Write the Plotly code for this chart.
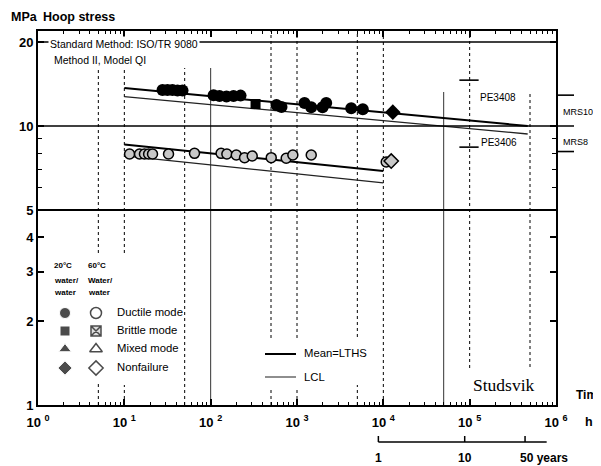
import numpy as np
import plotly.graph_objects as go

# ---------------- data ----------------
t20_ductile = [27.7, 31.6, 36.1, 41.3, 47.2, 108, 126.6, 152.6, 184, 222,
               579, 662, 1222, 1462, 1975, 2180, 4246, 5785]
s20_ductile = [13.46, 13.46, 13.46, 13.40, 13.40, 12.90, 12.80, 12.75, 12.80, 12.85,
               11.90, 11.70, 12.09, 11.68, 11.68, 12.09, 11.58, 11.49]
t20_brittle = [331]
s20_brittle = [11.99]
t20_nonfail = [12880]
s20_nonfail = [11.21]

t60_ductile = [11.5, 15.0, 17.1, 19.1, 21.2, 32.5, 65, 132, 154, 198, 247, 303,
               503, 750, 895, 1462, 10800]
s60_ductile = [7.94, 7.94, 7.94, 7.94, 7.94, 7.94, 7.98, 7.98, 7.94, 7.87, 7.70, 7.81,
               7.70, 7.66, 7.87, 7.87, 7.43]
t60_nonfail = [12340]
s60_nonfail = [7.49]

mean20_t = [10, 4.7e5]
mean20_s = [13.68, 10.0]
lcl20_t = [10, 4.7e5]
lcl20_s = [12.75, 9.36]
mean60_t = [10, 1e4]
mean60_s = [8.59, 6.90]
lcl60_t = [10, 1e4]
lcl60_s = [7.81, 6.25]

vline_times = [5, 10, 50, 100, 500, 1000, 5000, 1e4, 5e4, 1e5, 5e5]
hline_stress = [5, 10, 20]
mrs_stress = [12.9, 8.1]
mrs_labels = ["MRS10", "MRS8"]
pe_stress = [14.6, 8.4]
pe_labels = ["PE3408", "PE3406"]
pe_time_span = [7.6e4, 1.27e5]
years_marks = [1, 10, 50]
hours_per_year = 8760

x_tickvals = [1, 10, 100, 1e3, 1e4, 1e5, 1e6]
x_ticktext = ["10 <sup>%d</sup>" % k for k in range(7)]
y_tickvals = [1, 2, 3, 4, 5, 10, 20]
y_ticktext = ["1", "2", "3", "4", "5", "10", "20"]

# ---------------- layout helpers ----------------
# the page body has an 8px margin, so the figure is drawn 8px in from the window edge
OFF = 8
W, H = 601 - OFF, 466 - OFF
ML, MR, MT, MB = 38 - OFF, 45, 31 - OFF, 61
PW, PH = W - ML - MR, H - MT - MB
FONT = "Arial, Liberation Sans, Helvetica, sans-serif"
X0, Y0 = OFF + ML, OFF + MT + PH   # window pixel of plot's left / bottom edge


def fx(px):
    return (px - X0) / PW


def fy(py):
    return (Y0 - py) / PH


def tx(t):
    return np.log10(t) / 6.0


fig = go.Figure()

# regression lines
fig.add_trace(go.Scatter(x=mean20_t, y=mean20_s, mode="lines",
                         line=dict(color="black", width=2), showlegend=False))
fig.add_trace(go.Scatter(x=lcl20_t, y=lcl20_s, mode="lines",
                         line=dict(color="#222", width=1.3), showlegend=False))
fig.add_trace(go.Scatter(x=mean60_t, y=mean60_s, mode="lines",
                         line=dict(color="black", width=2), showlegend=False))
fig.add_trace(go.Scatter(x=lcl60_t, y=lcl60_s, mode="lines",
                         line=dict(color="#222", width=1.3), showlegend=False))

# data points
fig.add_trace(go.Scatter(x=t20_ductile, y=s20_ductile, mode="markers",
                         marker=dict(symbol="circle", size=12, color="black"),
                         showlegend=False))
fig.add_trace(go.Scatter(x=t20_brittle, y=s20_brittle, mode="markers",
                         marker=dict(symbol="square", size=10, color="black"),
                         showlegend=False))
fig.add_trace(go.Scatter(x=t20_nonfail, y=s20_nonfail, mode="markers",
                         marker=dict(symbol="diamond", size=12, color="black"),
                         showlegend=False))
fig.add_trace(go.Scatter(x=t60_ductile, y=s60_ductile, mode="markers",
                         marker=dict(symbol="circle", size=10, color="#c8c8c8",
                                     line=dict(color="black", width=1.5)),
                         showlegend=False))
fig.add_trace(go.Scatter(x=t60_nonfail, y=s60_nonfail, mode="markers",
                         marker=dict(symbol="diamond", size=11, color="#c8c8c8",
                                     line=dict(color="black", width=1.5)),
                         showlegend=False))

# legend symbols on an overlay axis (paper-like 0..1)
leg_rows = [313, 331, 349, 368]
leg_syms = ["circle", "square", "triangle-up", "diamond"]
fig.add_trace(go.Scatter(x=[fx(65)] * 4, y=[fy(r) for r in leg_rows], mode="markers",
                         xaxis="x2", yaxis="y2",
                         marker=dict(symbol=leg_syms, size=[11, 10, 11, 11], color="black"),
                         showlegend=False))
fig.add_trace(go.Scatter(x=[fx(96)] * 4, y=[fy(r) for r in leg_rows], mode="markers",
                         xaxis="x2", yaxis="y2",
                         marker=dict(symbol=["circle", "square-x", "triangle-up", "diamond"],
                                     size=[11, 10, 11, 11],
                                     color=["white", "#cfcfcf", "white", "white"],
                                     line=dict(color="black", width=1.5)),
                         showlegend=False))

shapes = []
# vertical reference lines (segments in window pixel rows)
vsegs = {
    5: [(68, 253), (383, 405)],
    10: [(68, 253), (385, 405)],
    50: [(68, 405)],
    100: [(68, 405)],
    500: [(31, 338), (387, 405)],
    1000: [(31, 338), (387, 405)],
    5000: [(31, 337), (385, 405)],
    1e4: [(31, 405)],
    5e4: [(92, 405)],
    1e5: [(31, 368)],
    5e5: [(92, 367)],
}
for t in vline_times:
    solid = t in (100, 5e4)
    for (a, b) in vsegs[t]:
        shapes.append(dict(type="line", xref="x", yref="paper", x0=t, x1=t,
                           y0=fy(b), y1=fy(a), layer="below",
                           line=dict(color="#333" if solid else "black", width=1,
                                     dash="solid" if solid else "dot")))

# horizontal lines at 5, 10, 20 MPa
shapes.append(dict(type="line", xref="paper", yref="y", x0=0, x1=1,
                   y0=hline_stress[0], y1=hline_stress[0],
                   line=dict(color="black", width=2)))
shapes.append(dict(type="line", xref="paper", yref="y", x0=0, x1=fx(574),
                   y0=hline_stress[1], y1=hline_stress[1],
                   line=dict(color="black", width=1.6)))
shapes.append(dict(type="line", xref="paper", yref="y", x0=0, x1=1,
                   y0=hline_stress[2], y1=hline_stress[2],
                   line=dict(color="black", width=1.5)))

# MRS ticks outside the right axis
for s in mrs_stress:
    shapes.append(dict(type="line", xref="paper", yref="y", x0=1, x1=fx(574),
                       y0=s, y1=s, line=dict(color="black", width=1.6)))
# PE dashes
for s in pe_stress:
    shapes.append(dict(type="line", xref="x", yref="y", x0=pe_time_span[0],
                       x1=pe_time_span[1], y0=s, y1=s,
                       line=dict(color="black", width=1.6)))

# legend lines
shapes.append(dict(type="line", xref="paper", yref="paper", x0=fx(265), x1=fx(296),
                   y0=fy(354), y1=fy(354), line=dict(color="black", width=2)))
shapes.append(dict(type="line", xref="paper", yref="paper", x0=fx(265), x1=fx(296),
                   y0=fy(377), y1=fy(377), line=dict(color="#444", width=1.2)))

# years scale
yr_hours = [y * hours_per_year for y in years_marks]
shapes.append(dict(type="line", xref="x", yref="paper", x0=yr_hours[0],
                   x1=89 * hours_per_year, y0=fy(442), y1=fy(442),
                   line=dict(color="black", width=1.5)))
for h in yr_hours:
    shapes.append(dict(type="line", xref="x", yref="paper", x0=h, x1=h,
                       y0=fy(442), y1=fy(436), line=dict(color="black", width=1.5)))

ann = []


def A(text, x, y, size=11, bold=False, xanchor="left", family=FONT, bg=None, yanchor="middle"):
    d = dict(text=text, x=x, y=y, xref="paper", yref="paper", showarrow=False,
             xanchor=xanchor, yanchor=yanchor,
             font=dict(family=family, size=size, color="black",
                       weight="bold" if bold else "normal"))
    if bg:
        d["bgcolor"] = bg
        d["borderpad"] = 1
    ann.append(d)


A("MPa", fx(9), fy(17), 12.5, True)
A("Hoop stress", fx(41), fy(17), 12.5, True)
A("Standard Method: ISO/TR 9080", fx(48), fy(44), 10.5, bg="white")
A("Method II, Model QI", fx(52), fy(60), 10.5)

# legend text
A("20°C", fx(52), fy(265), 8, True)
A("water/", fx(52), fy(280), 8, True)
A("water", fx(52), fy(292), 8, True)
A("60°C", fx(86), fy(265), 8, True)
A("Water/", fx(86), fy(280), 8, True)
A("water", fx(86), fy(292), 8, True)
for row, lab in zip(leg_rows, ["Ductile mode", "Brittle mode", "Mixed mode", "Nonfailure"]):
    A(lab, fx(115), fy(row - 1), 11.3)
A("Mean=LTHS", fx(302), fy(353), 11.3)
A("LCL", fx(302), fy(377), 11.3)

A(pe_labels[0], fx(478), fy(97), 10)
A(pe_labels[1], fx(479), fy(142), 10)
A(mrs_labels[0], fx(561), fy(112), 9)
A(mrs_labels[1], fx(561), fy(142), 9)

A("Studsvik", fx(504), fy(385), 17.5, False, "center", "Liberation Serif, Times New Roman, serif")
A("Time", fx(574), fy(395), 12, True)
A("h", fx(583), fy(422), 12.5, True)

for ym, h in zip(years_marks, yr_hours):
    if ym == 50:
        A("50 years", tx(h), fy(458), 12, True, "left")
        ann[-1]["xshift"] = -7
    else:
        A(str(ym), tx(h), fy(458), 12, True, "center")

x_minor = [m * 10 ** k for k in range(6) for m in range(2, 10)]

fig.update_layout(
    width=W, height=H,
    margin=dict(l=ML, r=MR, t=MT, b=MB, pad=0),
    paper_bgcolor="white", plot_bgcolor="white",
    showlegend=False,
    font=dict(family=FONT, color="black"),
    xaxis=dict(type="log", range=[0, 6], tickvals=x_tickvals, ticktext=x_ticktext,
               ticks="inside", ticklen=6, tickwidth=1.5, tickcolor="black",
               showline=True, linecolor="black", linewidth=2, mirror="allticks",
               showgrid=False, zeroline=False, ticklabelstandoff=4,
               tickfont=dict(size=13, weight="bold", color="black"),
               minor=dict(tickvals=x_minor, ticks="inside", ticklen=3,
                          tickcolor="black", tickwidth=1, showgrid=False)),
    yaxis=dict(type="log", range=[0, 1.3405], tickvals=y_tickvals, ticktext=y_ticktext,
               ticks="inside", ticklen=6, tickwidth=1.5, tickcolor="black",
               showline=True, linecolor="black", linewidth=2, mirror="allticks",
               showgrid=False, zeroline=False,
               tickfont=dict(size=13, weight="bold", color="black"),
               minor=dict(tickvals=[6, 7, 8, 9], ticks="inside", ticklen=4,
                          tickcolor="black", tickwidth=1, showgrid=False)),
    xaxis2=dict(overlaying="x", range=[0, 1], visible=False, fixedrange=True),
    yaxis2=dict(overlaying="y", range=[0, 1], visible=False, fixedrange=True),
    shapes=shapes,
    annotations=ann,
)

fig.write_html("out.html")
